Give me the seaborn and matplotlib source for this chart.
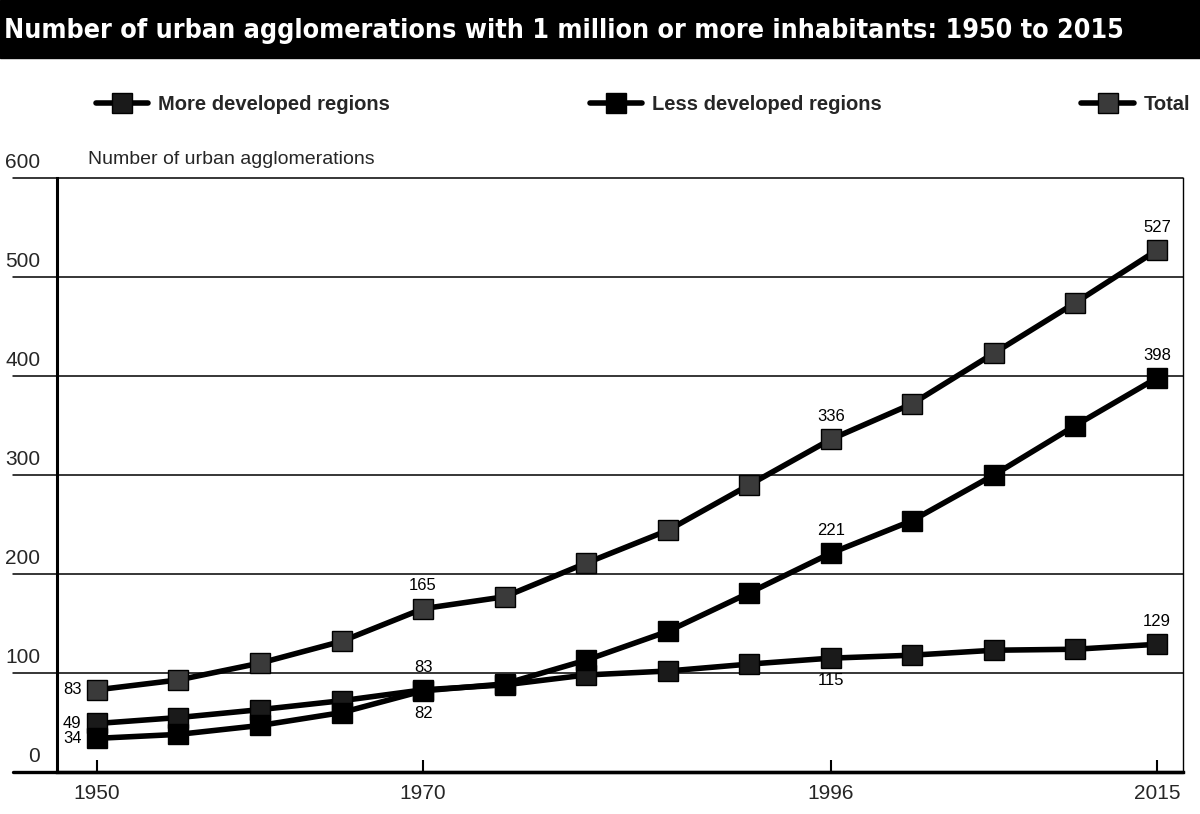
import matplotlib
matplotlib.use("Agg")
import matplotlib.pyplot as plt
import matplotlib.transforms as mtransforms
from matplotlib.patches import Rectangle
import pandas as pd
import seaborn as sns

# 数値は図から読み取り（5年刻み、1996年のみ例外）
years = [1950, 1955, 1960, 1965, 1970, 1975, 1980, 1985, 1990, 1996, 2000, 2005, 2010, 2015]
more_developed = [49, 55, 63, 72, 83, 88, 98, 102, 109, 115, 118, 123, 124, 129]
less_developed = [34, 38, 47, 60, 82, 89, 113, 142, 181, 221, 254, 300, 350, 398]
total = [83, 93, 110, 132, 165, 177, 211, 244, 290, 336, 372, 423, 474, 527]

series_names = ["More developed regions", "Less developed regions", "Total"]
tick_years = [1950, 1970, 1996, 2015]
y_ticks = [0, 100, 200, 300, 400, 500, 600]

title = "Number of urban agglomerations with 1 million or more inhabitants: 1950 to 2015"
y_title = "Number of urban agglomerations"

# 値ラベル: (系列, 年, 位置)
value_labels = [
    ("Total", 1950, "left"), ("Total", 1970, "above"), ("Total", 1996, "above"), ("Total", 2015, "above"),
    ("More developed regions", 1950, "left"), ("More developed regions", 1970, "above"),
    ("More developed regions", 1996, "below"), ("More developed regions", 2015, "above"),
    ("Less developed regions", 1950, "left"), ("Less developed regions", 1970, "below"),
    ("Less developed regions", 1996, "above"), ("Less developed regions", 2015, "above"),
]

df = pd.DataFrame({
    "pos": list(range(len(years))) * 3,
    "year": years * 3,
    "value": more_developed + less_developed + total,
    "series": sum([[s] * len(years) for s in series_names], []),
})

sns.set_theme(style="white")
FONTS = ["Liberation Sans", "DejaVu Sans"]
plt.rcParams["font.family"] = FONTS
plt.rcParams["font.size"] = 14

fig = plt.figure(figsize=(12, 8.14), dpi=100)
ax = fig.add_axes([0.0475, 0.0516, 0.9383, 0.7297])

face = {"More developed regions": "#1a1a1a", "Less developed regions": "black", "Total": "#3a3a3a"}
for name in series_names:
    sub = df[df["series"] == name]
    sns.lineplot(
        data=sub, x="pos", y="value", ax=ax, color="black", linewidth=4.0,
        marker="s", markersize=15, markerfacecolor=face[name], markeredgecolor="black",
        markeredgewidth=1.0, label=name, zorder=3,
    )

ax.set_xlim(-0.49, 13.32)
ax.set_ylim(0, 600)

# グリッド（左へはみ出す）
for v in y_ticks:
    ax.axhline(v, xmin=-0.039, xmax=1, color="black", lw=2.4 if v == 0 else 1.1,
               clip_on=False, zorder=1)

ax.set_yticks(y_ticks)
ax.set_yticklabels([str(v) for v in y_ticks], fontsize=15)
ax.tick_params(axis="y", length=0, pad=12)
shift = mtransforms.ScaledTranslation(0, 0.06, fig.dpi_scale_trans)
for lab in ax.get_yticklabels():
    lab.set_verticalalignment("bottom")
    lab.set_transform(lab.get_transform() + shift)

tick_pos = [years.index(y) for y in tick_years]
ax.set_xticks(tick_pos)
ax.set_xticklabels([str(y) for y in tick_years], fontsize=15)
ax.tick_params(axis="x", direction="in", length=9, width=1.5, color="black", pad=9, bottom=True)

ax.set_xlabel("")
ax.set_ylabel("")
ax.spines["top"].set_visible(False)
ax.spines["left"].set_linewidth(2.2)
ax.spines["left"].set_color("black")
ax.spines["right"].set_linewidth(1.0)
ax.spines["right"].set_color("black")
ax.spines["bottom"].set_linewidth(2.4)
ax.spines["bottom"].set_color("black")

vals = {"More developed regions": more_developed, "Less developed regions": less_developed, "Total": total}
offsets = {"left": ((-11, 0), "right", "center"), "above": ((0, 11), "center", "bottom"),
           "below": ((0, -11), "center", "top")}
for name, yr, where in value_labels:
    i = years.index(yr)
    (dx, dy), ha, va = offsets[where]
    ax.annotate(str(vals[name][i]), (i, vals[name][i]), xytext=(dx, dy), textcoords="offset points",
                ha=ha, va=va, fontsize=12, color="black", zorder=4)

# 凡例
sns.move_legend(
    ax, "center left", bbox_to_anchor=(0.08, 0.852, 0.912, 0.04), bbox_transform=fig.transFigure,
    ncol=3, mode="expand", frameon=False, handlelength=2.6, handletextpad=0.5,
    borderaxespad=0, borderpad=0,
    prop={"weight": "bold", "size": 14.5, "family": FONTS}, title=None,
)

# タイトル帯
fig.patches.append(Rectangle((0, 1 - 58 / 814), 1, 58 / 814, transform=fig.transFigure,
                             color="black", zorder=0))
fig.text(0.003, 1 - 31 / 814, title, color="white", fontsize=19.3, fontweight="bold",
         fontstretch="condensed", ha="left", va="center", family=["DejaVu Sans"])
fig.text(88 / 1200, 1 - 160 / 814, y_title, fontsize=14, ha="left", va="center")

plt.savefig("out.png", dpi=100)
